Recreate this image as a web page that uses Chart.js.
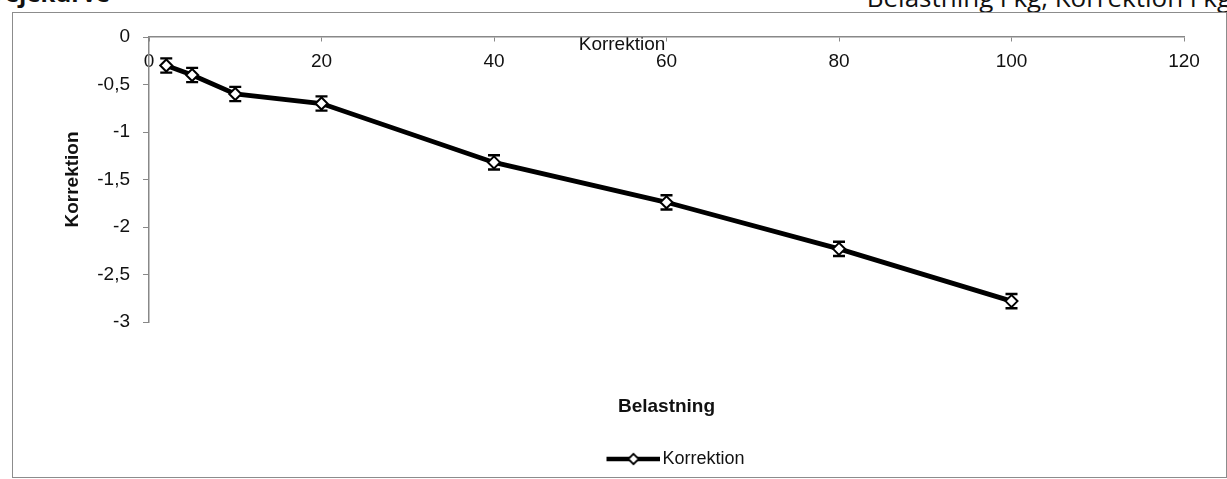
<!DOCTYPE html>
<html>
<head>
<meta charset="utf-8">
<script src="https://cdn.jsdelivr.net/npm/chart.js@4"></script>
<style>
html,body{margin:0;padding:0;background:#fff;width:1227px;height:479px;overflow:hidden;position:relative;}
#frame{position:absolute;left:12px;top:12px;width:1213px;height:464px;border:1.5px solid #8c8c8c;}
.hdr{position:absolute;white-space:nowrap;line-height:24px;font-family:"Open Sans","Liberation Sans",sans-serif;color:#111;}
#hl{right:1117px;top:-19px;font-size:24px;font-weight:bold;}
#hr{right:-4px;top:-15px;font-size:26px;}
#c{position:absolute;left:0;top:0;}
</style>
</head>
<body>
<div class="hdr" id="hl">Vejekurve</div>
<div class="hdr" id="hr">Belastning i kg, Korrektion i kg</div>
<div id="frame"></div>
<canvas id="c" width="1227" height="479"></canvas>
<script>
// ---- data ----
const belastning = [2, 5, 10, 20, 40, 60, 80, 100];
const korrektion = [-0.3, -0.4, -0.6, -0.7, -1.32, -1.74, -2.23, -2.78];
const fejl = [0.075, 0.075, 0.075, 0.075, 0.075, 0.075, 0.075, 0.075];
const xTicks = [0, 20, 40, 60, 80, 100, 120];
const yTicks = [0, -0.5, -1, -1.5, -2, -2.5, -3];
const seriesName = 'Korrektion';
const xTitle = 'Belastning';
const yTitle = 'Korrektion';
const chartTitle = 'Korrektion';

const F = '"Liberation Sans", Arial, sans-serif';
const fmt = v => String(v).replace('.', ',');

// legend symbol: line with diamond
const legendImg = document.createElement('canvas');
legendImg.width = 79; legendImg.height = 14;
(function(){
  const g = legendImg.getContext('2d');
  g.strokeStyle = '#000'; g.lineWidth = 4.5;
  g.beginPath(); g.moveTo(25, 7); g.lineTo(79, 7); g.stroke();
  g.fillStyle = '#fff'; g.lineWidth = 1.8;
  g.beginPath(); g.moveTo(52, 1.8); g.lineTo(57.2, 7); g.lineTo(52, 12.2); g.lineTo(46.8, 7); g.closePath();
  g.fill(); g.stroke();
})();

const errorBars = {
  id: 'errorBars',
  beforeDatasetsDraw(chart) {
    const {ctx, scales: {x, y}} = chart;
    ctx.save();
    ctx.strokeStyle = '#000';
    ctx.lineWidth = 2.4;
    belastning.forEach((b, i) => {
      const px = x.getPixelForValue(b);
      const t = y.getPixelForValue(korrektion[i] + fejl[i]);
      const d = y.getPixelForValue(korrektion[i] - fejl[i]);
      ctx.beginPath();
      ctx.moveTo(px, t); ctx.lineTo(px, d);
      ctx.moveTo(px - 6, t); ctx.lineTo(px + 6, t);
      ctx.moveTo(px - 6, d); ctx.lineTo(px + 6, d);
      ctx.stroke();
    });
    ctx.restore();
  }
};

new Chart(document.getElementById('c').getContext('2d'), {
  type: 'line',
  data: {
    datasets: [{
      label: seriesName,
      data: belastning.map((b, i) => ({x: b, y: korrektion[i]})),
      borderColor: '#000',
      backgroundColor: '#fff',
      borderWidth: 4.8,
      pointStyle: 'rectRot',
      pointRadius: 6,
      pointBorderWidth: 2,
      pointBackgroundColor: '#fff',
      pointBorderColor: '#000',
      tension: 0,
      fill: false
    }]
  },
  options: {
    responsive: false,
    animation: false,
    devicePixelRatio: 1,
    layout: {padding: {left: 60, right: 43, top: 0, bottom: 1}},
    plugins: {
      title: {
        display: true, text: chartTitle, color: '#111',
        font: {family: F, size: 19, weight: 'normal'},
        padding: {top: 33.6, bottom: -19.4}
      },
      legend: {
        position: 'bottom', fullSize: false,
        labels: {
          usePointStyle: true, pointStyle: legendImg, pointStyleWidth: 65,
          color: '#111', font: {family: F, size: 18}, padding: 10
        }
      },
      tooltip: {enabled: false}
    },
    scales: {
      x: {
        type: 'linear', position: {y: 0}, min: 0, max: 120,
        afterBuildTicks(s) { s.ticks = xTicks.map(v => ({value: v})); },
        grid: {display: true, drawOnChartArea: false, drawTicks: true, tickLength: 4, color: '#888'},
        border: {display: true, color: '#888', width: 1.5},
        ticks: {color: '#111', font: {family: F, size: 19}, padding: 9, maxRotation: 0, autoSkip: false, callback: v => fmt(v)}
      },
      x2: {
        type: 'linear', position: 'bottom', min: 0, max: 120,
        grid: {display: false, drawTicks: false},
        border: {display: false},
        ticks: {display: false},
        title: {display: true, text: xTitle, color: '#111', font: {family: F, size: 19, weight: 'bold'}, padding: {top: 73.6, bottom: 21.6}}
      },
      y: {
        type: 'linear', position: 'left', min: -3, max: 0,
        afterFit(s) { s.width = 89; },
        afterBuildTicks(s) { s.ticks = yTicks.map(v => ({value: v})); },
        grid: {display: true, drawOnChartArea: false, drawTicks: true, tickLength: 6, color: '#888'},
        border: {display: true, color: '#888', width: 1.5},
        ticks: {color: '#111', font: {family: F, size: 19}, padding: 13, autoSkip: false, callback: v => fmt(v)},
        title: {display: true, text: yTitle, color: '#111', font: {family: F, size: 19, weight: 'bold'}, padding: {top: 1, bottom: 0}}
      }
    }
  },
  plugins: [errorBars]
});
</script>
</body>
</html>
